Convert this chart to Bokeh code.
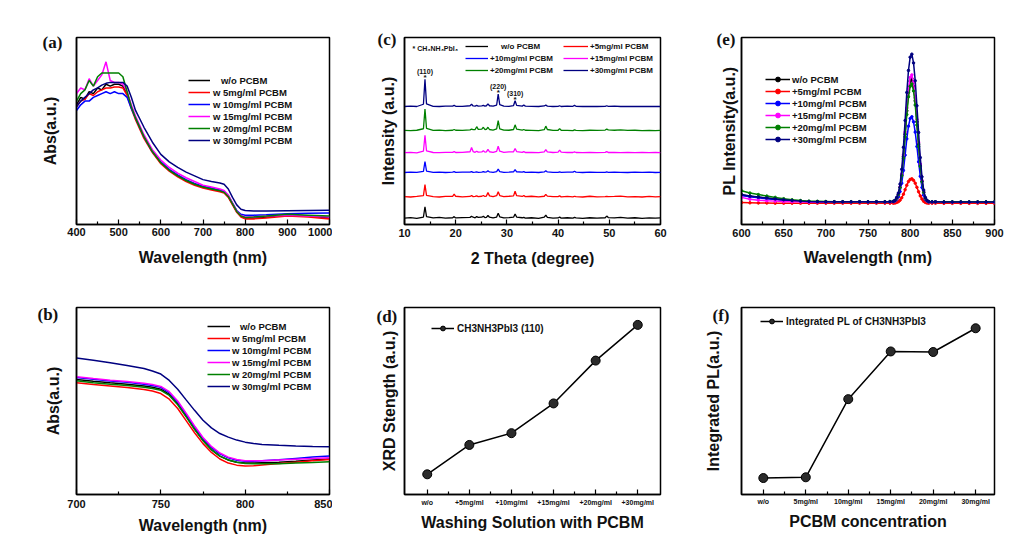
from bokeh.plotting import figure
from bokeh.models import Range1d, FixedTicker, Label, Legend, LegendItem
from bokeh.layouts import gridplot
from bokeh.embed import file_html
from bokeh.resources import INLINE

FONT = "Liberation Sans"
SERIF = "Liberation Serif"

# ---------------- data ----------------
series_colors = ["#000000", "#ff0000", "#0000ff", "#ff00ff", "#008000", "#000080"]

# (a) UV-vis absorption, full range
abs_labels = ["w/o PCBM", "w 5mg/ml PCBM", "w 10mg/ml PCBM",
              "w 15mg/ml PCBM", "w 20mg/ml PCBM", "w 30mg/ml PCBM"]
wl_a = [400, 410, 420, 430, 440, 450, 460, 470, 480, 490, 500, 510,
        520, 530, 540, 560, 580, 600, 620, 640, 660, 680, 700, 720,
        740, 750, 760, 770, 780, 790, 800, 820, 850, 900, 950, 1000]
abs_a_wo = [0.64, 0.68, 0.67, 0.71, 0.70, 0.73, 0.72, 0.75, 0.74, 0.75, 0.75, 0.74,
            0.70, 0.63, 0.57, 0.47, 0.39, 0.33, 0.29, 0.26, 0.235, 0.215, 0.20, 0.19,
            0.18, 0.172, 0.15, 0.11, 0.07, 0.045, 0.035, 0.035, 0.04, 0.052, 0.045, 0.035]
abs_a_5 = [0.63, 0.66, 0.67, 0.70, 0.69, 0.71, 0.72, 0.73, 0.73, 0.735, 0.735, 0.73,
           0.69, 0.62, 0.56, 0.46, 0.385, 0.325, 0.285, 0.255, 0.23, 0.21, 0.195, 0.185,
           0.175, 0.168, 0.145, 0.105, 0.065, 0.04, 0.03, 0.03, 0.035, 0.045, 0.04, 0.03]
abs_a_10 = [0.61, 0.64, 0.66, 0.66, 0.68, 0.69, 0.70, 0.71, 0.70, 0.71, 0.70, 0.70,
            0.68, 0.62, 0.57, 0.47, 0.39, 0.335, 0.295, 0.265, 0.24, 0.22, 0.205, 0.195,
            0.185, 0.178, 0.155, 0.115, 0.075, 0.055, 0.05, 0.05, 0.052, 0.058, 0.06, 0.062]
abs_a_15 = [0.70, 0.73, 0.72, 0.78, 0.74, 0.77, 0.80, 0.87, 0.77, 0.76, 0.76, 0.75,
            0.71, 0.64, 0.58, 0.48, 0.40, 0.345, 0.305, 0.275, 0.25, 0.23, 0.21, 0.20,
            0.19, 0.182, 0.158, 0.115, 0.072, 0.048, 0.04, 0.04, 0.045, 0.05, 0.045, 0.04]
abs_a_20 = [0.66, 0.70, 0.72, 0.77, 0.74, 0.79, 0.81, 0.81, 0.81, 0.81, 0.81, 0.79,
            0.71, 0.63, 0.57, 0.47, 0.39, 0.33, 0.29, 0.26, 0.235, 0.215, 0.20, 0.19,
            0.18, 0.172, 0.15, 0.11, 0.07, 0.045, 0.038, 0.04, 0.045, 0.055, 0.05, 0.045]
abs_a_30 = [0.63, 0.66, 0.68, 0.70, 0.72, 0.73, 0.745, 0.755, 0.76, 0.76, 0.76, 0.76,
            0.74, 0.68, 0.61, 0.52, 0.44, 0.375, 0.335, 0.305, 0.28, 0.26, 0.24, 0.23,
            0.222, 0.215, 0.19, 0.145, 0.105, 0.082, 0.075, 0.072, 0.072, 0.074, 0.075, 0.076]
a_ticks = [400, 500, 600, 700, 800, 900, 1000]
a_minor = [450, 550, 650, 750, 850, 950]

# (b) UV-vis absorption, band-edge zoom
wl_b = [700, 710, 720, 730, 740, 745, 750, 755, 760, 765, 770, 775,
        780, 785, 790, 795, 800, 805, 810, 820, 830, 840, 850]
abs_b_wo = [0.615, 0.605, 0.597, 0.590, 0.580, 0.573, 0.563, 0.535, 0.485, 0.420, 0.350, 0.290,
            0.240, 0.205, 0.185, 0.172, 0.168, 0.168, 0.170, 0.173, 0.178, 0.184, 0.190]
abs_b_5 = [0.598, 0.588, 0.580, 0.572, 0.562, 0.553, 0.540, 0.510, 0.460, 0.395, 0.330, 0.272,
           0.225, 0.190, 0.168, 0.157, 0.153, 0.154, 0.158, 0.166, 0.173, 0.180, 0.187]
abs_b_10 = [0.626, 0.616, 0.607, 0.600, 0.590, 0.583, 0.573, 0.545, 0.495, 0.430, 0.362, 0.300,
            0.252, 0.217, 0.196, 0.183, 0.178, 0.178, 0.180, 0.186, 0.193, 0.200, 0.206]
abs_b_15 = [0.630, 0.620, 0.611, 0.604, 0.595, 0.588, 0.578, 0.550, 0.500, 0.435, 0.367, 0.305,
            0.257, 0.222, 0.200, 0.187, 0.181, 0.180, 0.181, 0.185, 0.189, 0.193, 0.196]
abs_b_20 = [0.608, 0.598, 0.590, 0.583, 0.574, 0.567, 0.557, 0.530, 0.480, 0.415, 0.348, 0.288,
            0.240, 0.205, 0.184, 0.172, 0.166, 0.164, 0.164, 0.165, 0.168, 0.171, 0.175]
abs_b_30 = [0.730, 0.718, 0.704, 0.690, 0.674, 0.660, 0.644, 0.610, 0.563, 0.506, 0.450, 0.397,
            0.356, 0.326, 0.307, 0.291, 0.280, 0.273, 0.268, 0.263, 0.259, 0.257, 0.256]
b_ticks = [700, 750, 800, 850]
b_minor = [725, 775, 825]

# (c) XRD patterns (stacked)
xrd_labels = ["w/o PCBM", "+5mg/ml PCBM", "+10mg/ml PCBM",
              "+15mg/ml PCBM", "+20mg/ml PCBM", "+30mg/ml PCBM"]
theta = [10.0, 11.2, 12.4, 13.7, 14.0, 14.3, 15.6, 16.8,
         18.0, 19.4, 19.7, 20.0, 21.3, 22.8, 23.1, 23.4,
         23.8, 24.1, 24.4, 25.1, 25.4, 25.7, 26.0, 26.3,
         26.6, 27.3, 28.0, 28.3, 28.6, 29.4, 30.4, 31.3,
         31.6, 31.9, 33.0, 33.3, 33.6, 34.8, 36.2, 37.3,
         37.6, 37.9, 39.0, 40.0, 40.3, 40.6, 41.8, 42.9,
         43.2, 43.5, 44.8, 46.2, 47.6, 49.2, 49.5, 49.8,
         51.0, 52.2, 53.6, 55.0, 56.4, 57.8, 59.0, 60.0]
xrd_wo = [.004, .007, .003, .010, .065, .012, .005, .008,
          .004, .006, .012, .005, .007, .008, .014, .009,
          .006, .012, .008, .009, .014, .007, .008, .018,
          .009, .006, .010, .030, .011, .005, .007, .009,
          .026, .010, .006, .008, .004, .006, .003, .009,
          .020, .008, .004, .005, .010, .004, .006, .004,
          .008, .005, .003, .006, .004, .006, .015, .007,
          .005, .008, .004, .006, .003, .005, .004, .005]
xrd_5 = [.006, .004, .007, .011, .070, .013, .006, .004,
         .007, .008, .020, .008, .005, .007, .012, .006,
         .007, .010, .006, .008, .012, .007, .009, .028,
         .010, .006, .011, .032, .012, .006, .008, .010,
         .035, .011, .007, .012, .006, .008, .005, .008,
         .018, .009, .006, .006, .010, .005, .007, .005,
         .008, .006, .004, .008, .005, .006, .008, .006,
         .007, .009, .005, .006, .004, .007, .005, .006]
xrd_10 = [.003, .005, .004, .009, .062, .011, .004, .005,
          .003, .005, .008, .004, .005, .005, .008, .004,
          .005, .006, .004, .005, .008, .005, .006, .012,
          .006, .004, .008, .021, .008, .004, .005, .007,
          .018, .007, .005, .008, .004, .005, .003, .006,
          .012, .006, .004, .004, .006, .004, .005, .005,
          .010, .005, .003, .005, .004, .004, .006, .004,
          .005, .004, .003, .005, .004, .005, .003, .004]
xrd_15 = [.004, .006, .003, .012, .097, .014, .005, .004,
          .006, .006, .010, .005, .006, .009, .032, .010,
          .006, .012, .007, .008, .015, .007, .008, .022,
          .009, .006, .011, .039, .012, .006, .008, .009,
          .026, .010, .006, .010, .005, .006, .004, .008,
          .020, .008, .005, .007, .018, .007, .005, .005,
          .008, .005, .004, .006, .004, .006, .010, .005,
          .006, .004, .005, .004, .006, .004, .005, .004]
xrd_20 = [.005, .004, .006, .014, .120, .016, .005, .007,
          .004, .006, .010, .006, .005, .008, .012, .009,
          .010, .025, .011, .012, .022, .010, .011, .022,
          .010, .007, .013, .058, .014, .007, .006, .010,
          .035, .012, .007, .010, .006, .005, .004, .009,
          .028, .010, .005, .006, .015, .006, .005, .004,
          .008, .005, .004, .006, .005, .007, .012, .008,
          .006, .008, .005, .006, .004, .005, .004, .005]
xrd_30 = [.004, .006, .004, .016, .150, .018, .005, .004,
          .006, .006, .010, .005, .005, .008, .016, .007,
          .006, .010, .006, .007, .010, .006, .008, .018,
          .008, .006, .012, .070, .014, .006, .005, .009,
          .035, .010, .006, .012, .006, .005, .004, .007,
          .012, .006, .004, .005, .008, .004, .006, .005,
          .010, .005, .004, .005, .004, .005, .008, .005,
          .006, .004, .005, .004, .005, .004, .005, .004]
xrd_offsets = [0.030, 0.143, 0.275, 0.380, 0.498, 0.627]
hkl_labels = ["(110)", "(220)", "(310)"]
hkl_theta = [14.0, 28.3, 31.6]
c_ticks = [10, 20, 30, 40, 50, 60]
c_minor = [15, 25, 35, 45, 55]

# (e) PL spectra
pl_labels = xrd_labels
pl_wl = [600, 610, 620, 630, 640, 650, 660, 670, 680, 690,
         700, 710, 720, 730, 740, 750, 760, 770, 776, 780,
         782, 784, 786, 788, 790, 792, 794, 796, 798, 800,
         802, 804, 806, 808, 810, 812, 814, 816, 818, 820,
         822, 826, 830, 840, 850, 860, 870, 880, 890, 900]
pl_wo = [.158, .151, .146, .141, .136, .131, .127, .124, .122, .121,
         .120, .120, .120, .120, .120, .120, .120, .120, .121, .122,
         .127, .140, .160, .199, .265, .364, .483, .608, .707, .767,
         .780, .740, .661, .549, .430, .318, .232, .173, .140, .127,
         .120, .120, .120, .119, .119, .119, .119, .119, .119, .119]
pl_5 = [.117, .116, .115, .115, .114, .114, .114, .114, .114, .114,
        .114, .114, .114, .114, .114, .114, .114, .114, .114, .114,
        .115, .118, .122, .130, .143, .162, .186, .210, .230, .241,
        .244, .236, .221, .199, .175, .153, .136, .124, .118, .115,
        .114, .114, .114, .113, .113, .113, .113, .113, .113, .113]
pl_10 = [.155, .148, .143, .138, .134, .130, .127, .124, .122, .121,
         .121, .121, .121, .121, .121, .121, .121, .121, .122, .123,
         .126, .135, .148, .176, .221, .289, .371, .458, .526, .567,
         .576, .549, .494, .417, .335, .258, .198, .157, .135, .126,
         .121, .121, .121, .120, .120, .120, .120, .120, .120, .120]
pl_15 = [.145, .135, .130, .127, .125, .123, .122, .121, .120, .120,
         .120, .120, .120, .120, .120, .120, .120, .120, .121, .122,
         .127, .140, .161, .202, .270, .372, .494, .623, .725, .786,
         .800, .759, .678, .562, .440, .324, .236, .174, .140, .127,
         .120, .120, .120, .119, .119, .119, .119, .119, .119, .119]
pl_20 = [.180, .168, .160, .152, .145, .138, .132, .128, .125, .124,
         .123, .122, .122, .122, .122, .122, .122, .122, .123, .124,
         .128, .141, .160, .198, .261, .355, .469, .588, .683, .739,
         .752, .714, .639, .532, .418, .311, .229, .172, .141, .128,
         .122, .122, .121, .121, .121, .121, .121, .121, .121, .121]
pl_30 = [.160, .152, .147, .142, .137, .132, .128, .125, .123, .122,
         .121, .121, .121, .121, .121, .121, .121, .121, .122, .123,
         .129, .145, .168, .216, .295, .413, .556, .706, .824, .895,
         .911, .864, .769, .635, .492, .358, .255, .184, .145, .129,
         .122, .121, .121, .120, .120, .120, .120, .120, .120, .120]
e_ticks = [600, 650, 700, 750, 800, 850, 900]
e_minor = [625, 675, 725, 775, 825, 875]

# (d) XRD (110) strength
d_categories = ["w/o", "+5mg/ml", "+10mg/ml", "+15mg/ml", "+20mg/ml", "+30mg/ml"]
d_values = [0.108, 0.265, 0.328, 0.487, 0.716, 0.907]
d_legend = "CH3NH3PbI3 (110)"

# (f) integrated PL
f_categories = ["w/o", "5mg/ml", "10mg/ml", "15mg/ml", "20mg/ml", "30mg/ml"]
f_values = [0.088, 0.092, 0.510, 0.765, 0.762, 0.889]
f_legend = "Integrated PL of CH3NH3PbI3"

for arr in (xrd_wo, xrd_5, xrd_10, xrd_15, xrd_20, xrd_30):
    assert len(arr) == len(theta)
for arr in (pl_wo, pl_5, pl_10, pl_15, pl_20, pl_30):
    assert len(arr) == len(pl_wl)
for arr in (abs_a_wo, abs_a_5, abs_a_10, abs_a_15, abs_a_20, abs_a_30):
    assert len(arr) == len(wl_a)
for arr in (abs_b_wo, abs_b_5, abs_b_10, abs_b_15, abs_b_20, abs_b_30):
    assert len(arr) == len(wl_b)

NB = "\u00a0"

# ---------------- helpers ----------------
def base_fig(xr, width, height, left, right, top, bottom):
    p = figure(width=width, height=height, x_range=Range1d(*xr), y_range=Range1d(0, 1),
               output_backend="svg", toolbar_location=None, tools="",
               min_border_left=left, min_border_right=right,
               min_border_top=top, min_border_bottom=bottom)
    p.grid.visible = False
    p.outline_line_color = "black"
    p.outline_line_width = 1.5
    p.outline_line_alpha = 1.0
    p.border_fill_color = "white"
    p.background_fill_color = "white"
    return p


def style_x(p, ticks, minor, title, tick_size="11px", tick_standoff=2,
            title_standoff=8, overrides=None):
    ax = p.xaxis[0]
    ax.ticker = FixedTicker(ticks=ticks, minor_ticks=minor)
    ax.axis_label = title
    ax.axis_label_text_font = FONT
    ax.axis_label_text_font_style = "bold"
    ax.axis_label_text_font_size = "16px"
    ax.axis_label_text_color = "#111111"
    ax.axis_label_standoff = title_standoff
    ax.major_label_text_font = FONT
    ax.major_label_text_font_style = "bold"
    ax.major_label_text_font_size = tick_size
    ax.major_label_text_color = "#111111"
    ax.major_label_standoff = tick_standoff
    ax.major_tick_in = 5
    ax.major_tick_out = 0
    ax.minor_tick_in = 3
    ax.minor_tick_out = 0
    ax.axis_line_width = 1.5
    ax.major_tick_line_width = 1.2
    ax.minor_tick_line_width = 1.2
    if overrides:
        ax.major_label_overrides = overrides


def style_y(p, title, standoff):
    ax = p.yaxis[0]
    ax.ticker = FixedTicker(ticks=[])
    ax.major_tick_in = 0
    ax.major_tick_out = 0
    ax.minor_tick_in = 0
    ax.minor_tick_out = 0
    ax.major_label_standoff = 0
    ax.axis_label = title
    ax.axis_label_text_font = FONT
    ax.axis_label_text_font_style = "bold"
    ax.axis_label_text_font_size = "16px"
    ax.axis_label_text_color = "#111111"
    ax.axis_label_standoff = standoff
    ax.axis_line_width = 1.5


def panel_label(p, text, offset, standoff):
    t = p.title
    t.text = text
    t.align = "left"
    t.offset = offset
    t.standoff = standoff
    t.text_font = SERIF
    t.text_font_style = "bold"
    t.text_font_size = "17px"
    t.text_color = "#111111"


def add_legend(p, items, x, y, glyph_w, standoff, font_size):
    leg = Legend(items=items, location=(x, y), orientation="vertical",
                 background_fill_alpha=0, border_line_alpha=0, padding=0, margin=0,
                 spacing=0, label_height=12, glyph_height=12, glyph_width=glyph_w,
                 label_standoff=standoff, label_text_font=FONT,
                 label_text_font_style="bold", label_text_font_size=font_size,
                 label_text_color="#111111")
    p.add_layout(leg)


def label_text(lbl, i, n=3):
    return (NB * n + lbl) if i == 0 else lbl

# ---------------- (a) ----------------
pa = base_fig((wl_a[0], wl_a[-1]), 332, 280, 76, 3, 37, 54)
items = []
for i, (ys, col) in enumerate(zip([abs_a_wo, abs_a_5, abs_a_10, abs_a_15, abs_a_20, abs_a_30],
                                  series_colors)):
    r = pa.line(wl_a, ys, line_color=col, line_width=1.5)
    items.append(LegendItem(label=label_text(abs_labels[i], i), renderers=[r]))
add_legend(pa, items, 112, 78, 22, 3, "9.5px")
style_x(pa, a_ticks, a_minor, "Wavelength (nm)", tick_standoff=3, title_standoff=10)
style_y(pa, "Abs(a.u.)", 18)
panel_label(pa, "(a)", -34, -29)

# ---------------- (b) ----------------
pb = base_fig((wl_b[0], wl_b[-1]), 332, 257, 76, 3, 27, 41)
items = []
for i, (ys, col) in enumerate(zip([abs_b_wo, abs_b_5, abs_b_10, abs_b_15, abs_b_20, abs_b_30],
                                  series_colors)):
    r = pb.line(wl_b, ys, line_color=col, line_width=1.5)
    items.append(LegendItem(label=label_text(abs_labels[i], i), renderers=[r]))
add_legend(pb, items, 131, 102, 23, 2, "9.5px")
style_x(pb, b_ticks, b_minor, "Wavelength (nm)", tick_standoff=5, title_standoff=6)
style_y(pb, "Abs(a.u.)", 15)
panel_label(pb, "(b)", -39, -33)

# ---------------- (c) ----------------
pc = base_fig((theta[0], theta[-1]), 356, 280, 72, 28, 35, 56)
xrd_series = [xrd_wo, xrd_5, xrd_10, xrd_15, xrd_20, xrd_30]
rends = []
for ys, off, col in zip(xrd_series, xrd_offsets, series_colors):
    rends.append(pc.line(theta, [off + v for v in ys], line_color=col, line_width=1.3))
items1 = [LegendItem(label=label_text(xrd_labels[i], i, 5), renderers=[rends[i]]) for i in (0, 2, 4)]
items2 = [LegendItem(label=xrd_labels[i], renderers=[rends[i]]) for i in (1, 3, 5)]
add_legend(pc, items1, 61, 148, 23, 2, "8px")
add_legend(pc, items2, 159, 148, 25, 2, "8px")
for lbl, t in zip(hkl_labels, hkl_theta):
    ytop = xrd_offsets[5] + xrd_30[theta.index(t)]
    pc.add_layout(Label(x=t, y=ytop, text=lbl, y_offset=4, text_align="center",
                        text_baseline="bottom", text_font=FONT, text_font_style="bold",
                        text_font_size="7px", text_color="#111111"))
    pc.add_layout(Label(x=t, y=ytop, text="*", y_offset=-3, text_align="center",
                        text_baseline="bottom", text_font=FONT, text_font_style="bold",
                        text_font_size="8px", text_color="#111111"))
pc.add_layout(Label(x=8, y=176, x_units="screen", y_units="screen",
                    text="* CH\u2083NH\u2083PbI\u2083", text_font=FONT, text_font_style="bold",
                    text_font_size="7px", text_baseline="middle", text_color="#111111"))
style_x(pc, c_ticks, c_minor, "2 Theta (degree)", tick_standoff=4, title_standoff=10)
style_y(pc, "Intensity (a.u.)", 8)
panel_label(pc, "(c)", -27, -23)

# ---------------- (d) ----------------
d_x = list(range(len(d_categories)))
pd_ = base_fig((-0.54, len(d_categories) - 1 + 0.54), 356, 257, 71, 26, 25, 43)
rl = pd_.line(d_x, d_values, line_color="black", line_width=1.5)
rs = pd_.scatter(d_x, d_values, size=9, fill_color="#2b2b2b", line_color="black", line_width=1)
add_legend(pd_, [LegendItem(label=d_legend, renderers=[rl, rs])], 27, 160, 23, 3, "10px")
d_over = {}
for i, c in enumerate(d_categories):
    d_over[i] = c
    d_over[str(i)] = c
style_x(pd_, d_x, [i + 0.5 for i in d_x[:-1]], "Washing Solution with PCBM",
        tick_size="7px", tick_standoff=4, title_standoff=5, overrides=d_over)
style_y(pd_, "XRD Stength (a.u.)", 7)
panel_label(pd_, "(d)", -28, -37)

# ---------------- (e) ----------------
pe = base_fig((pl_wl[0], pl_wl[-1]), 348, 280, 53, 42, 36, 55)
items = []
pl_series = [pl_wo, pl_5, pl_10, pl_15, pl_20, pl_30]
for i, (ys, col) in enumerate(zip(pl_series, series_colors)):
    r1 = pe.line(pl_wl, ys, line_color=col, line_width=1.5)
    r2 = pe.scatter(pl_wl, ys, size=2.5, fill_color=col, line_color=col)
    items.append(LegendItem(label=pl_labels[i], renderers=[r1, r2]))
add_legend(pe, items, 24, 79, 25, 2, "9.5px")
style_x(pe, e_ticks, e_minor, "Wavelength (nm)", tick_standoff=4, title_standoff=9)
style_y(pe, "PL Intensity(a.u.)", 4)
panel_label(pe, "(e)", -25, -23)

# ---------------- (f) ----------------
f_x = list(range(len(f_categories)))
pf = base_fig((-0.514, len(f_categories) - 1 + 0.444), 348, 257, 53, 40, 27, 41)
rl = pf.line(f_x, f_values, line_color="black", line_width=1.5)
rs = pf.scatter(f_x, f_values, size=9, fill_color="#2b2b2b", line_color="black", line_width=1)
add_legend(pf, [LegendItem(label=f_legend, renderers=[rl, rs])], 19, 167, 23, 3, "10px")
f_over = {}
for i, c in enumerate(f_categories):
    f_over[i] = c
    f_over[str(i)] = c
style_x(pf, f_x, [i + 0.5 for i in f_x[:-1]], "PCBM concentration",
        tick_size="7px", tick_standoff=3, title_standoff=5, overrides=f_over)
style_y(pf, "Integrated PL(a.u.)", 20)
panel_label(pf, "(f)", -29, -35)

grid = gridplot([[pa, pc, pe], [pb, pd_, pf]], toolbar_location=None)
open("out.html", "w").write(file_html(grid, INLINE))
